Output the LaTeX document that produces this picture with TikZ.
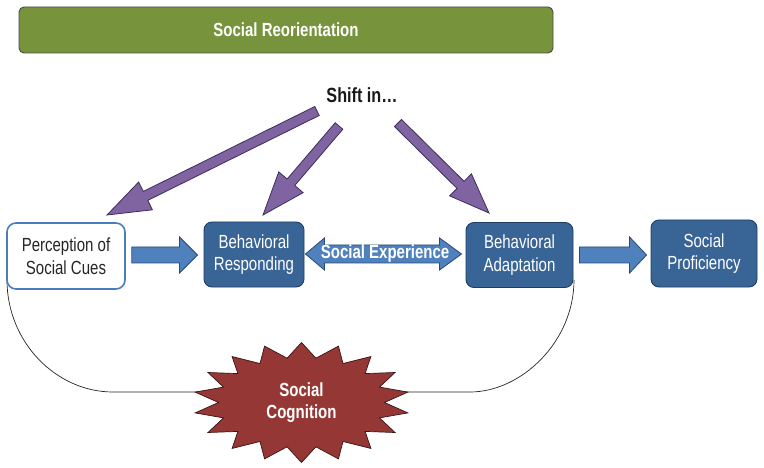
\documentclass[tikz,border=0pt]{standalone}
\usepackage{fontspec}
\setmainfont{Liberation Sans}[FakeStretch=0.79]
\usetikzlibrary{calc}
\definecolor{reogreen}{HTML}{77933C}
\definecolor{reoborder}{HTML}{4A4A4A}
\definecolor{purp}{HTML}{8064A2}
\definecolor{purpdark}{HTML}{3B2E5A}
\definecolor{arrblue}{HTML}{4F81BD}
\definecolor{arrblueborder}{HTML}{2A4A73}
\definecolor{boxblue}{HTML}{386496}
\definecolor{boxborder}{HTML}{1F3D63}
\definecolor{percborder}{HTML}{4A7EBB}
\definecolor{cogred}{HTML}{953735}
\definecolor{cogborder}{HTML}{3A1515}

\newcommand\blkarrow[6]{%
  \path let \p1=($(#3)-(#2)$) in \pgfextra{%
    \pgfmathsetmacro\tmplen{veclen(\x1,\y1)}%
    \pgfmathsetmacro\tmpang{atan2(\y1,\x1)}%
    \global\let\arrlen\tmplen\global\let\arrang\tmpang};
  \draw[#1,shift={(#2)},rotate=\arrang]
    (0pt,#4pt) -- ({\arrlen pt-#6pt},#4pt) -- ({\arrlen pt-#6pt},#5pt) -- (\arrlen pt,0pt)
    -- ({\arrlen pt-#6pt},-#5pt) -- ({\arrlen pt-#6pt},-#4pt) -- (0pt,-#4pt) -- cycle;
}

\begin{document}
\begin{tikzpicture}[x=1pt,y=-1pt,
  every node/.style={font=\fontsize{19}{22.5}\selectfont, align=center, inner sep=0pt},
  greenbar/.style={rectangle, rounded corners=5pt, fill=reogreen, draw=reoborder, line width=0.9pt, text=white, font=\fontsize{19}{22}\selectfont\bfseries},
  darkbox/.style={rectangle, rounded corners=8pt, fill=boxblue, draw=boxborder, line width=0.9pt, text=white},
  whitebox/.style={rectangle, rounded corners=9pt, fill=white, draw=percborder, line width=1.6pt, text=black!85},
  purparrow/.style={fill=purp, draw=purpdark, line width=0.8pt, line join=miter},
  bluearrow/.style={fill=arrblue, draw=arrblueborder, line width=0.8pt, line join=miter},
  boldwhite/.style={text=white, font=\fontsize{19}{21.5}\selectfont\bfseries},
  curveline/.style={draw=black!85, line width=0.7pt},
  starsty/.style={fill=cogred, draw=cogborder, line width=0.7pt, line join=miter}
]
\useasboundingbox (0,0) rectangle (764,468);

% top bar and label
\node[greenbar, minimum width=534pt, minimum height=46pt] (reo) at (286,30) {Social Reorientation};
\node[font=\fontsize{20.5}{22}\selectfont\bfseries, text=black!90] (shift) at (362,95) {Shift in…};

% cognition curve (behind boxes and star)
\coordinate (cogc) at (301.5,402.5);
\coordinate (cL) at (113,392);
\coordinate (cR) at (470,392);
\coordinate (pstart) at (7,280);
\coordinate (astart) at (574,280);
\draw[curveline] (pstart) .. controls (7,342) and (56,392) .. (cL) -- (cR)
  .. controls (521,392) and (574,342) .. (astart);

% boxes
\node[whitebox, minimum width=118pt, minimum height=66pt] (perc) at (66,256) {Perception of\\Social Cues};
\node[darkbox, minimum width=100pt, minimum height=65pt] (resp) at (254,254.5) {Behavioral\\Responding};
\node[darkbox, minimum width=107pt, minimum height=65pt] (adap) at (519.5,255) {Behavioral\\Adaptation};
\node[darkbox, minimum width=106pt, minimum height=67pt] (prof) at (704,253.5) {Social\\Proficiency};

% purple arrows from "Shift in..."
\coordinate (t1) at (317,111);
\coordinate (h1) at (107,215);
\coordinate (t2) at (339,126);
\coordinate (h2) at (263,215);
\coordinate (t3) at (398,123);
\coordinate (h3) at (489,213);
\blkarrow{purparrow}{t1}{h1}{5}{15.5}{43}
\blkarrow{purparrow}{t2}{h2}{5}{16}{43}
\blkarrow{purparrow}{t3}{h3}{5}{15.5}{40}

% blue block arrows
\coordinate (b1s) at ($(perc.east)+(6,-1)$);
\coordinate (b1e) at ($(resp.west |- b1s)+(-6,0)$);
\coordinate (b2s) at ($(adap.east)+(6,0)$);
\coordinate (b2e) at ($(prof.west |- b2s)+(-4,0)$);
\blkarrow{bluearrow}{b1s}{b1e}{8}{18}{18}
\blkarrow{bluearrow}{b2s}{b2e}{8}{18}{17}

% double arrow: social experience
\coordinate (el) at ($(resp.east)+(1,-0.5)$);
\coordinate (er) at ($(adap.west |- el)+(-4,0)$);
\draw[bluearrow] (el) -- ++(19,-16) -- ++(0,7) -- ($(er)+(-22,-9)$) -- ++(0,-7) -- (er)
  -- ++(-22,16) -- ++(0,-7) -- ($(el)+(19,9)$) -- ++(0,7) -- cycle;
\node[boldwhite] (exp) at ($(el)!0.51!(er)$) {Social Experience};

% social cognition starburst
\draw[starsty] ($(cogc)+(0,60)$)
  \foreach \i in {0,...,16}{
    -- ($(cogc)+({83*cos(100+20*\i)},{45*sin(100+20*\i)})$)
    -- ($(cogc)+({108*cos(110+20*\i)},{60*sin(110+20*\i)})$) }
  -- ($(cogc)+({83*cos(80)},{45*sin(80)})$) -- cycle;
\node[boldwhite] (cog) at (cogc) {Social\\Cognition};
\end{tikzpicture}
\end{document}
